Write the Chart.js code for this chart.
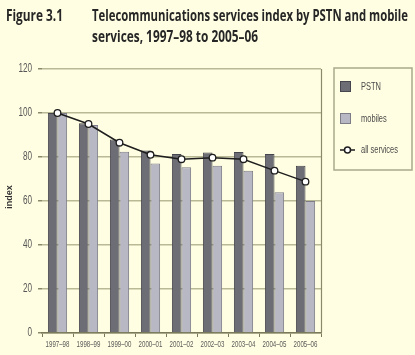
<!DOCTYPE html>
<html>
<head>
<meta charset="utf-8">
<script src="https://cdn.jsdelivr.net/npm/chart.js@4.4.1/dist/chart.umd.min.js"></script>
<style>
  html, body { margin:0; padding:0; background:#fffee2; }
  #wrap { position:relative; width:415px; height:355px; overflow:hidden; background:#fffee2; }
  canvas { position:absolute; left:0; top:0; }
  .t { position:absolute; white-space:nowrap; font-family:"Open Sans", "Noto Sans", sans-serif; font-weight:700; font-size:15.5px; color:#262626; transform-origin:0 0; line-height:1; }
</style>
</head>
<body>
<div id="wrap">
  <canvas id="c" width="415" height="355"></canvas>
  <div class="t" id="t0" data-w="57" style="left:6px;top:8px;">Figure 3.1</div>
  <div class="t" id="t1" data-w="316" style="left:92px;top:8px;">Telecommunications services index by PSTN and mobile</div>
  <div class="t" id="t2" data-w="166" style="left:92px;top:29px;">services, 1997–98 to 2005–06</div>
</div>
<script>
const categories = ["1997–98","1998–99","1999–00","2000–01","2001–02","2002–03","2003–04","2004–05","2005–06"];
const pstn = [100, 95.3, 88, 83, 81.4, 82, 82.3, 81.4, 76];
const mobiles = [100, 94.5, 82.4, 77, 75.3, 76, 73.8, 64, 60];
const allServices = [100, 95, 86.5, 81, 79, 79.7, 79, 73.8, 68.8];
const yTicks = [0, 20, 40, 60, 80, 100, 120];

document.querySelectorAll('.t').forEach(el => {
  const w = el.getBoundingClientRect().width;
  const target = parseFloat(el.dataset.w);
  el.style.transform = 'scaleX(' + (target / w) + ')';
});

const FONT = '"Liberation Sans", "DejaVu Sans", sans-serif';

function condText(ctx, text, x, y, sx, align) {
  ctx.save();
  ctx.translate(x, y);
  ctx.scale(sx, 1);
  ctx.textAlign = align;
  ctx.fillText(text, 0, 0);
  ctx.restore();
}

const extras = {
  id: 'extras',
  afterDraw(chart) {
    const ctx = chart.ctx;
    const a = chart.chartArea;
    ctx.save();
    // right border of plot area
    ctx.strokeStyle = '#8a8a6a';
    ctx.lineWidth = 1.2;
    ctx.beginPath();
    ctx.moveTo(a.right + 0.5, a.top);
    ctx.lineTo(a.right + 0.5, a.bottom);
    ctx.stroke();

    // y tick labels (condensed)
    const ys = chart.scales.y;
    ctx.fillStyle = '#555555';
    ctx.font = '12px ' + FONT;
    ctx.textBaseline = 'middle';
    yTicks.forEach(v => {
      condText(ctx, String(v), 32, ys.getPixelForValue(v), 0.68, 'right');
    });
    // x tick labels (condensed)
    const xs = chart.scales.x;
    ctx.font = '8.5px ' + FONT;
    ctx.fillStyle = '#5a5a5a';
    categories.forEach((c, i) => {
      condText(ctx, c, xs.getPixelForValue(i), a.bottom + 12, 0.72, 'center');
    });
    // y title
    ctx.save();
    ctx.translate(10, 197);
    ctx.rotate(-Math.PI / 2);
    ctx.font = 'bold 9px ' + FONT;
    ctx.fillStyle = '#333333';
    ctx.textAlign = 'center';
    ctx.textBaseline = 'middle';
    ctx.fillText('index', 0, 0);
    ctx.restore();

    // legend box
    const lx = 334, ly = 68, lw = 78, lh = 102;
    ctx.strokeStyle = '#a9a98c';
    ctx.lineWidth = 1.5;
    ctx.strokeRect(lx, ly, lw, lh);
    const ds = chart.data.datasets;
    const rows = [87, 119, 150];
    ctx.font = '11px ' + FONT;
    ctx.textBaseline = 'middle';
    ds.forEach((d, i) => {
      const y = rows[i];
      if (d.type === 'line') {
        ctx.strokeStyle = d.borderColor;
        ctx.lineWidth = 1.5;
        ctx.beginPath();
        ctx.moveTo(340, y); ctx.lineTo(355, y); ctx.stroke();
        ctx.beginPath();
        ctx.arc(347.5, y, 3, 0, Math.PI * 2);
        ctx.fillStyle = '#ffffff';
        ctx.fill();
        ctx.stroke();
      } else {
        ctx.fillStyle = d.backgroundColor;
        ctx.fillRect(340, y - 6, 11, 11);
        ctx.strokeStyle = d.borderColor;
        ctx.lineWidth = 1;
        ctx.strokeRect(340.5, y - 5.5, 10, 10);
      }
      ctx.fillStyle = '#4a4a4a';
      condText(ctx, d.label, 361, y, 0.68, 'left');
    });
    ctx.restore();
  }
};

new Chart(document.getElementById('c'), {
  data: {
    labels: categories,
    datasets: [
      { type: 'bar', label: 'PSTN', data: pstn, backgroundColor: '#6d6d75', borderColor: '#45454d', borderWidth: 1, order: 2, categoryPercentage: 0.62, barPercentage: 1 },
      { type: 'bar', label: 'mobiles', data: mobiles, backgroundColor: '#b8b8c4', borderColor: '#7d7d88', borderWidth: 1, order: 2, categoryPercentage: 0.62, barPercentage: 1 },
      { type: 'line', label: 'all services', data: allServices, borderColor: '#1e1e1e', borderWidth: 1.5, pointRadius: 3.3, pointBackgroundColor: '#ffffff', pointBorderColor: '#1e1e1e', pointBorderWidth: 1.3, tension: 0, order: 0 }
    ]
  },
  options: {
    responsive: false,
    animation: false,
    devicePixelRatio: 1,
    layout: { padding: { left: 0, top: 69, right: 94, bottom: 0 } },
    plugins: { legend: { display: false }, tooltip: { enabled: false } },
    scales: {
      x: {
        offset: true,
        grid: { display: true, offset: true, drawOnChartArea: false, drawTicks: true, tickLength: 4, color: '#7a7a5a' },
        border: { display: true, color: '#7a7a5a', width: 1.5 },
        ticks: { display: false },
        afterFit(s) { s.height = 22; }
      },
      y: {
        min: 0, max: 120,
        afterBuildTicks(s) { s.ticks = yTicks.map(v => ({ value: v })); },
        grid: { color: '#b9b996', lineWidth: 1.5, drawTicks: true, tickLength: 4, tickColor: '#8a8a6a' },
        border: { display: false },
        ticks: { display: false },
        afterFit(s) { s.width = 42; }
      }
    }
  },
  plugins: [extras]
});
</script>
</body>
</html>
